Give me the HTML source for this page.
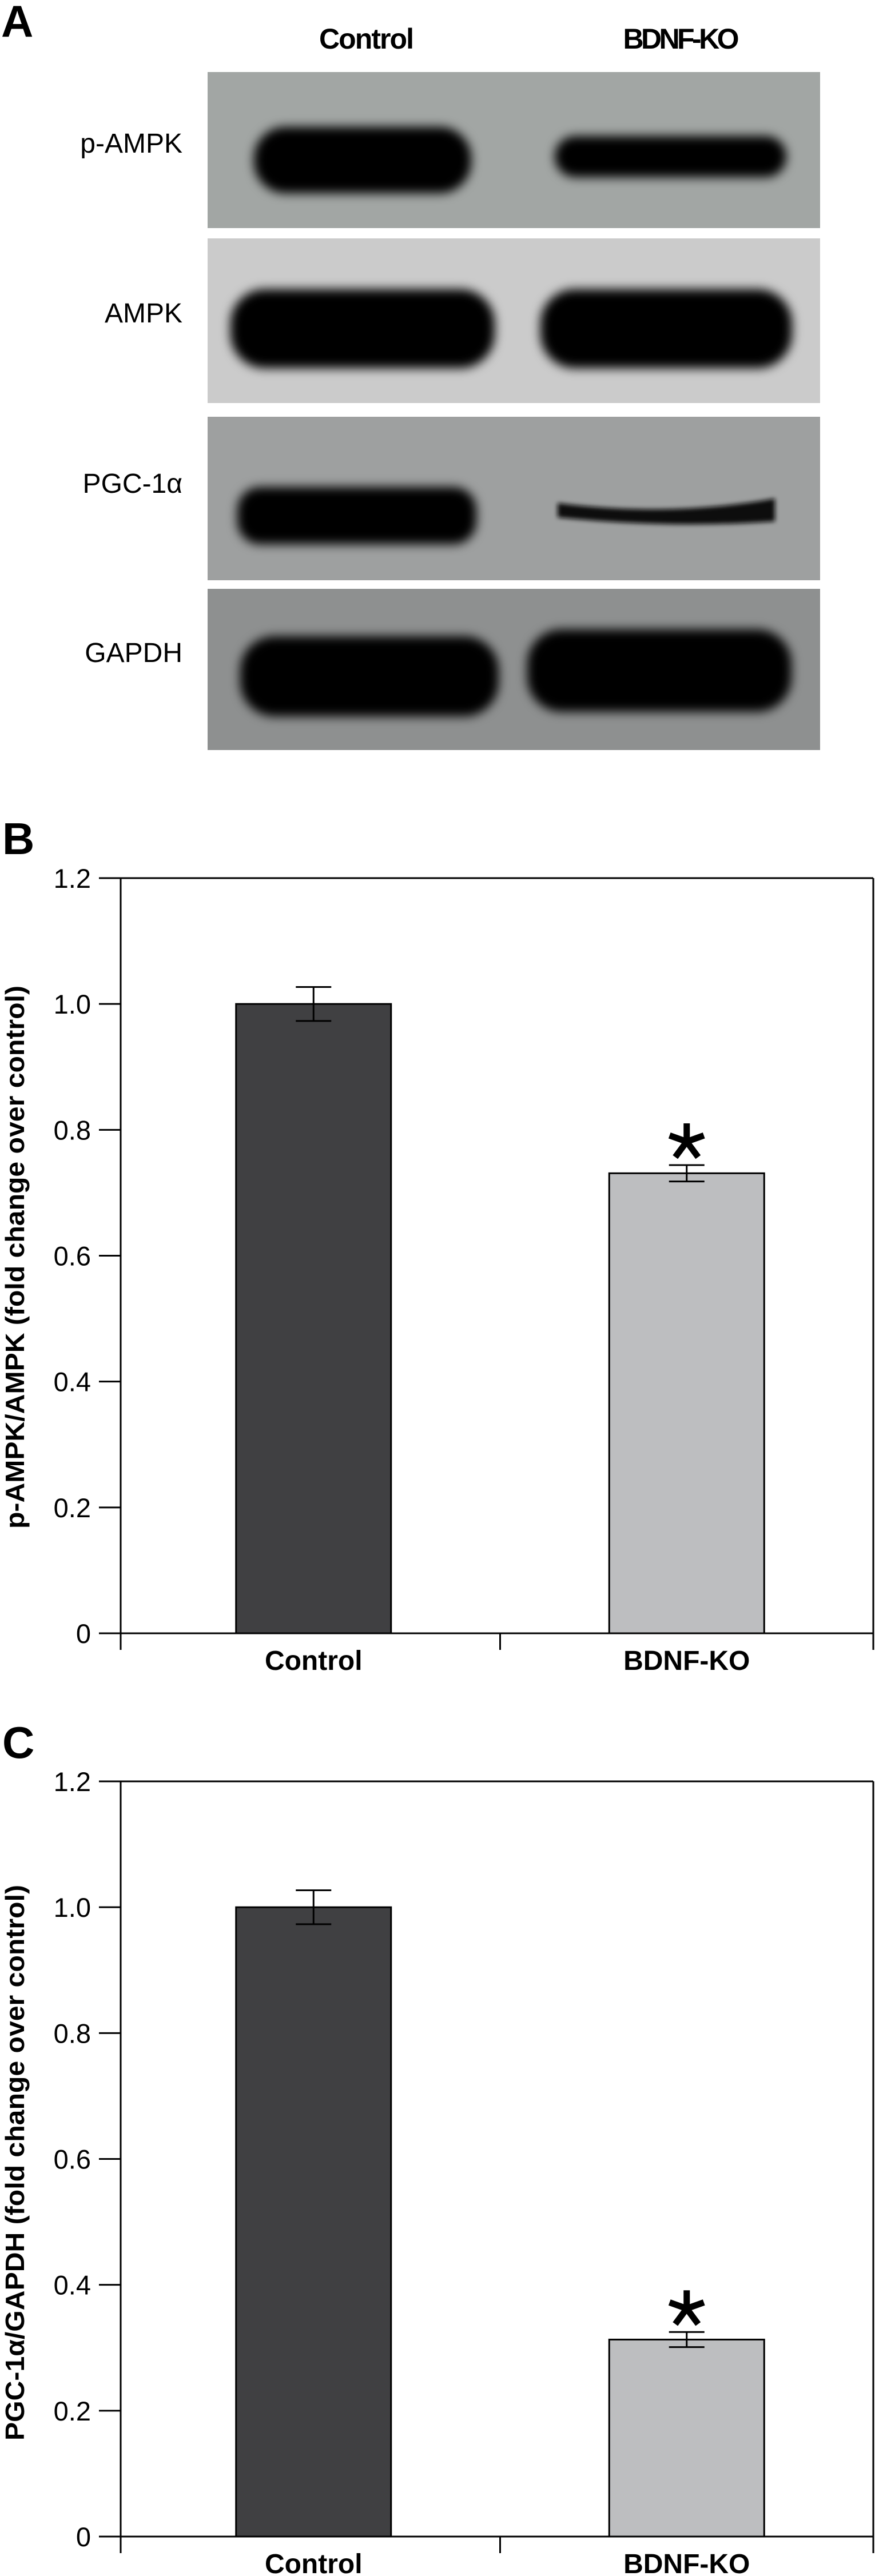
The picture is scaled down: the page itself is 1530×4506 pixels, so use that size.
<!DOCTYPE html>
<html>
<head>
<meta charset="utf-8">
<style>
  html,body{margin:0;padding:0;background:#fff;}
  body{width:1530px;height:4506px;overflow:hidden;position:relative;}
  svg{position:absolute;left:0;top:0;}
  text{font-family:"Liberation Sans", sans-serif;}
</style>
</head>
<body>
<svg id="fig" width="1530" height="4506" viewBox="0 0 1530 4506" xmlns="http://www.w3.org/2000/svg">
  <defs>
    <filter id="blur" x="-20%" y="-50%" width="140%" height="200%">
      <feGaussianBlur stdDeviation="9"/>
    </filter>
    <filter id="blur2" x="-20%" y="-50%" width="140%" height="200%">
      <feGaussianBlur stdDeviation="4"/>
    </filter>
  </defs>

  <g>
    <text x="2" y="64" font-size="78" font-weight="bold">A</text>
    <text x="641" y="85" font-size="50" font-weight="bold" text-anchor="middle" textLength="166">Control</text>
    <text x="1191" y="85" font-size="50" font-weight="bold" text-anchor="middle" textLength="203">BDNF-KO</text>

    <text x="319" y="267" font-size="48" text-anchor="end">p-AMPK</text>
    <text x="319" y="564" font-size="48" text-anchor="end">AMPK</text>
    <text x="319" y="862" font-size="48" text-anchor="end">PGC-1α</text>
    <text x="319" y="1158" font-size="48" text-anchor="end">GAPDH</text>

    <g>
      <rect x="363" y="126" width="1071" height="273" fill="#a2a6a4"/>
      <rect x="444" y="222" width="380" height="116" rx="55" fill="#000" filter="url(#blur)"/>
      <rect x="970" y="238" width="405" height="72" rx="36" fill="#000" filter="url(#blur)"/>
    </g>
    <g>
      <rect x="363" y="417" width="1071" height="288" fill="#cbcbcb"/>
      <rect x="403" y="506" width="462" height="138" rx="60" fill="#000" filter="url(#blur)"/>
      <rect x="945" y="506" width="440" height="138" rx="60" fill="#000" filter="url(#blur)"/>
    </g>
    <g>
      <rect x="363" y="729" width="1071" height="286" fill="#9ea0a0"/>
      <rect x="415" y="852" width="418" height="100" rx="40" fill="#000" filter="url(#blur)"/>
      <path d="M975 880 Q1170 905 1355 872 L1355 912 Q1170 925 975 905 Z" fill="#111" filter="url(#blur2)"/>
    </g>
    <g>
      <rect x="363" y="1030" width="1071" height="282" fill="#8e9090"/>
      <rect x="420" y="1113" width="452" height="140" rx="60" fill="#000" filter="url(#blur)"/>
      <rect x="922" y="1101" width="462" height="144" rx="60" fill="#000" filter="url(#blur)"/>
    </g>
  </g>

  <g id="chartB"></g>
  <g id="chartC"></g>
</svg>

<script>
const categories = ["Control", "BDNF-KO"];
const ampkValues = [1.0, 0.731];
const ampkErrors = [0.027, 0.013];
const pgcValues = [1.0, 0.313];
const pgcErrors = [0.027, 0.012];
const significant = [false, true];
const yTicks = [0, 0.2, 0.4, 0.6, 0.8, 1.0, 1.2];
const yTickLabels = ["0", "0.2", "0.4", "0.6", "0.8", "1.0", "1.2"];
const yMax = 1.2;

const NS = "http://www.w3.org/2000/svg";
function mk(tag, attrs, parent) {
  const el = document.createElementNS(NS, tag);
  for (const k in attrs) el.setAttribute(k, attrs[k]);
  parent.appendChild(el);
  return el;
}

function drawChart(g, cfg) {
  const left = 211, right = 1527, top = cfg.top, bottom = cfg.top + 1321;
  const plotL = 222;
  const band = (right - plotL) / categories.length;
  const barW = 271;
  const yScale = v => bottom - (v / yMax) * (bottom - top);
  const xScale = i => plotL + band * (i + 0.5);

  const letter = mk("text", {x: 4, y: cfg.letterY, "font-size": 78, "font-weight": "bold"}, g);
  letter.textContent = cfg.letter;
  
  

  cfg.values.forEach((v, i) => {
    const cx = xScale(i);
    const bar = mk("rect", {x: cx - barW / 2, y: yScale(v), width: barW, height: bottom - yScale(v),
      fill: i === 0 ? "#404042" : "#bdbec0", stroke: "#000", "stroke-width": 3}, g);
    
    

    const e = cfg.errors[i];
    const eg = mk("g", {stroke: "#000", "stroke-width": 3}, g);
    
    
    mk("line", {x1: cx, x2: cx, y1: yScale(v + e), y2: yScale(v - e)}, eg);
    mk("line", {x1: cx - 31, x2: cx + 31, y1: yScale(v + e), y2: yScale(v + e)}, eg);
    mk("line", {x1: cx - 31, x2: cx + 31, y1: yScale(v - e), y2: yScale(v - e)}, eg);

    if (significant[i]) {
      const ay = yScale(v + e) - 37;
      const ast = mk("g", {stroke: "#000", "stroke-width": 11, "stroke-linecap": "butt"}, g);
      
      
      mk("line", {x1: cx, x2: cx, y1: ay - 36, y2: ay + 4}, ast);
      const arms = [[-30, -12], [30, -12], [-20, 30], [20, 30]];
      arms.forEach(p => mk("line", {x1: cx, y1: ay - 4, x2: cx + p[0], y2: ay - 4 + p[1] * 0.9}, ast));
    }
  });

  const axes = mk("g", {stroke: "#000", "stroke-width": 3, fill: "none"}, g);
  
  
  mk("line", {x1: left, x2: left, y1: top, y2: bottom + 29}, axes);
  mk("line", {x1: left, x2: right, y1: top, y2: top}, axes);
  mk("line", {x1: left, x2: right, y1: bottom, y2: bottom}, axes);
  mk("line", {x1: right, x2: right, y1: top, y2: bottom + 29}, axes);
  mk("line", {x1: plotL + band, x2: plotL + band, y1: bottom, y2: bottom + 29}, axes);

  yTicks.forEach((t, i) => {
    const y = yScale(t);
    const tk = mk("line", {x1: left - 38, x2: left, y1: y, y2: y, stroke: "#000", "stroke-width": 3}, g);
    
    
    const lb = mk("text", {x: 159, y: y + 17, "font-size": 47, "text-anchor": "end"}, g);
    lb.textContent = yTickLabels[i];
    
    
  });

  categories.forEach((c, i) => {
    const lb = mk("text", {x: xScale(i), y: bottom + 64, "font-size": 48, "font-weight": "bold", "text-anchor": "middle"}, g);
    lb.textContent = c;
    
    
  });

  const tt = mk("text", {transform: "translate(42," + (top + cfg.titleCenter) + ") rotate(-90)",
    "font-size": 46, "font-weight": "bold", "text-anchor": "middle", textLength: cfg.titleLen,
    lengthAdjust: "spacingAndGlyphs"}, g);
  tt.textContent = cfg.title;
  
  
}

drawChart(document.getElementById("chartB"), {
  top: 1536, letter: "B", letterY: 1494, values: ampkValues, errors: ampkErrors,
  title: "p-AMPK/AMPK (fold change over control)", titleCenter: 663, titleLen: 950
});
drawChart(document.getElementById("chartC"), {
  top: 3116, letter: "C", letterY: 3075, values: pgcValues, errors: pgcErrors,
  title: "PGC-1α/GAPDH (fold change over control)", titleCenter: 667, titleLen: 972
});
</script>
</body>
</html>
